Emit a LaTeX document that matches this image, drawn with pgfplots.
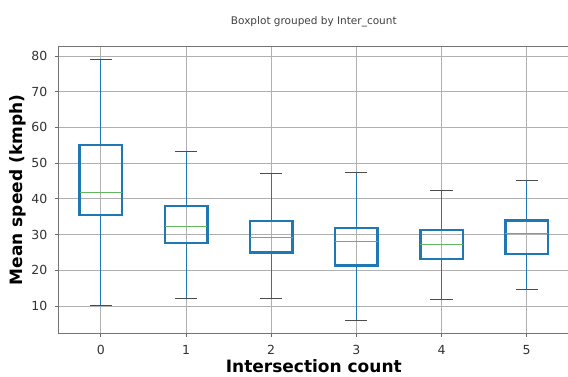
\documentclass[border=0pt]{standalone}
\usepackage{fontspec}
\setmainfont{DejaVu Sans}
\usepackage{pgfplots}
\pgfplotsset{compat=1.18}

\definecolor{mplblue}{HTML}{1F77B4}
\definecolor{mplgreen}{HTML}{2CA02C}
\definecolor{gridgray}{HTML}{B0B0B0}

\pgfplotsset{
  whiskerline/.style={mplblue, line width=1pt, mark=none},
  capline/.style={black!70, line width=1pt, mark=none},
  boxline/.style={mplblue, line width=2.5pt, line join=miter, mark=none},
  medianline/.style={mplgreen!75, line width=1.2pt, mark=none},
}

% one box: position, lower whisker, lower quartile, median, upper quartile, upper whisker
\newcommand{\speedbox}[6]{%
  \pgfmathsetmacro{\boxL}{#1-0.25}%
  \pgfmathsetmacro{\boxR}{#1+0.25}%
  \pgfmathsetmacro{\capL}{#1-0.13}%
  \pgfmathsetmacro{\capR}{#1+0.13}%
  \addplot[whiskerline] coordinates {(#1,#2) (#1,#3)};
  \addplot[whiskerline] coordinates {(#1,#5) (#1,#6)};
  \addplot[capline] coordinates {(\capL,#2) (\capR,#2)};
  \addplot[capline] coordinates {(\capL,#6) (\capR,#6)};
  \addplot[boxline] coordinates {(\boxL,#3) (\boxR,#3) (\boxR,#5) (\boxL,#5)} -- cycle;
  \addplot[medianline] coordinates {(\boxL,#4) (\boxR,#4)};
}

\begin{document}
\begin{tikzpicture}
\useasboundingbox (-58.3pt,-43pt) rectangle (509.7pt,333pt);
\begin{axis}[
  scale only axis, width=511pt, height=286pt,
  at={(0pt,0pt)}, anchor=south west,
  xmin=-0.5, xmax=5.5, ymin=2.44, ymax=82.5,
  xtick={0,1,2,3,4,5}, ytick={10,20,30,40,50,60,70,80},
  grid=major, major grid style={gridgray, line width=0.8pt},
  axis line style={black!55, line width=1pt},
  tick align=outside, major tick length=3.5pt,
  tick style={black!60, line width=0.8pt},
  xtick pos=bottom, ytick pos=left,
  tick label style={font=\fontsize{12.5}{14}\selectfont, text=black!80},
  yticklabel style={xshift=-4pt},
  xticklabel style={yshift=-5pt},
  /pgf/number format/assume math mode=true,
  xlabel={Intersection count}, ylabel={Mean speed (kmph)},
  label style={font=\fontsize{17}{20}\selectfont\bfseries},
  xlabel style={at={(axis description cs:0.5,-0.138)}, anchor=base},
  ylabel style={at={(axis description cs:-0.0697,0.5)}, anchor=base, rotate=0},
  every axis title shift=0pt,
  title={Boxplot grouped by Inter\_count},
  title style={at={(axis description cs:0.5,1.080)}, anchor=base,
    font=\fontsize{10.5}{12}\selectfont, text=black!75},
]
\speedbox{0}{10.0}{35.5}{41.7}{55.1}{79.1}
\speedbox{1}{12.1}{27.6}{32.2}{38.0}{53.2}
\speedbox{2}{12.0}{25.0}{29.2}{33.8}{47.1}
\speedbox{3}{5.9}{21.3}{28.0}{31.9}{47.3}
\speedbox{4}{11.8}{23.2}{27.3}{31.3}{42.3}
\speedbox{5}{14.6}{24.5}{30.3}{33.9}{45.2}
\end{axis}
\end{tikzpicture}
\end{document}
